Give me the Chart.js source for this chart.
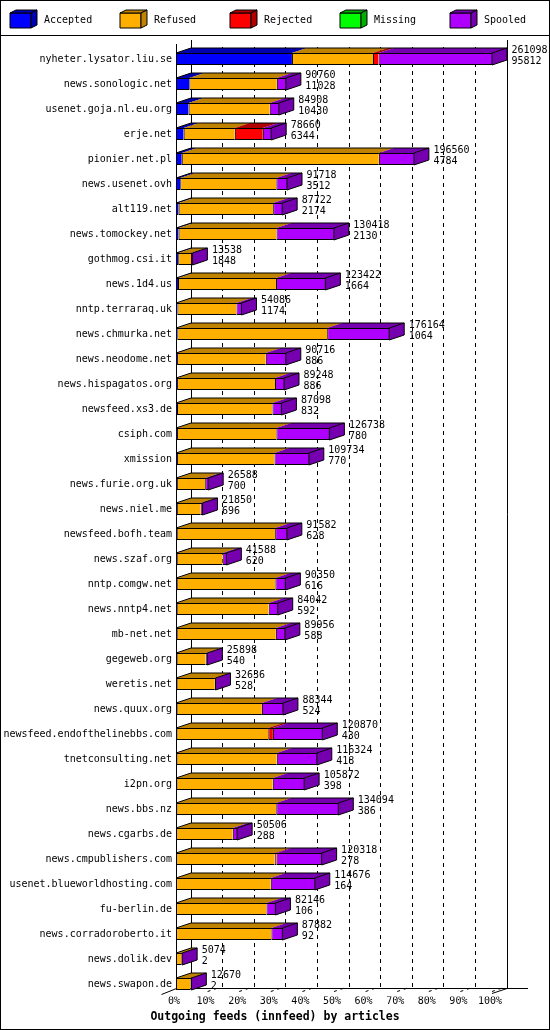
<!DOCTYPE html>
<html>
<head>
<meta charset="utf-8">
<title>Outgoing feeds (innfeed) by articles</title>
<script src="https://cdn.jsdelivr.net/npm/chart.js@4.4.1/dist/chart.umd.min.js"></script>
<style>
  html, body { margin: 0; padding: 0; background: #fff; }
  canvas { display: block; }
</style>
</head>
<body>
<canvas id="feeds" width="550" height="1030"></canvas>
<script>
// innfeed peers, top to bottom
const hosts = [
  "nyheter.lysator.liu.se", "news.sonologic.net", "usenet.goja.nl.eu.org", "erje.net",
  "pionier.net.pl", "news.usenet.ovh", "alt119.net", "news.tomockey.net", "gothmog.csi.it",
  "news.1d4.us", "nntp.terraraq.uk", "news.chmurka.net", "news.neodome.net",
  "news.hispagatos.org", "newsfeed.xs3.de", "csiph.com", "xmission", "news.furie.org.uk",
  "news.niel.me", "newsfeed.bofh.team", "news.szaf.org", "nntp.comgw.net", "news.nntp4.net",
  "mb-net.net", "gegeweb.org", "weretis.net", "news.quux.org", "newsfeed.endofthelinebbs.com",
  "tnetconsulting.net", "i2pn.org", "news.bbs.nz", "news.cgarbs.de", "news.cmpublishers.com",
  "usenet.blueworldhosting.com", "fu-berlin.de", "news.corradoroberto.it", "news.dolik.dev",
  "news.swapon.de"
];

// numbers printed next to each bar
const offered = [261098, 90760, 84908, 78660, 196560, 91718, 87722, 130418, 13538, 123422,
  54086, 176164, 90716, 89248, 87098, 126738, 109734, 26588, 21850, 91582, 41588, 90350,
  84042, 89956, 25898, 32636, 88344, 120870, 116324, 105872, 134094, 50506, 120318, 114676,
  82146, 87882, 5074, 12670];

const accepted = [95812, 11028, 10430, 6344, 4784, 3512, 2174, 2130, 1848, 1664, 1174, 1064,
  886, 886, 832, 780, 770, 700, 696, 628, 620, 616, 592, 588, 540, 528, 524, 430, 418, 398,
  386, 288, 278, 164, 106, 92, 2, 2];

const refused = [66970, 72292, 67038, 42276, 162836, 79386, 78108, 80888, 10590, 80968,
  48782, 123840, 73290, 80922, 78826, 82138, 80574, 23408, 19774, 81304, 37938, 81464,
  76010, 81928, 23978, 31558, 70460, 75790, 82836, 79574, 82448, 46638, 81190, 78132,
  74600, 78700, 4672, 12068];

const rejected = [4630, 0, 0, 23150, 0, 0, 0, 0, 0, 0, 0, 0, 0, 0, 0, 0, 0, 0, 0, 0, 0, 0,
  0, 0, 0, 0, 0, 3860, 0, 0, 0, 0, 1650, 0, 0, 0, 0, 0];

const missing = [0, 0, 0, 0, 0, 0, 0, 0, 0, 0, 0, 0, 0, 0, 0, 0, 0, 0, 0, 0, 0, 0, 0, 0, 0,
  0, 0, 0, 0, 0, 0, 0, 0, 0, 0, 0, 0, 0];

const spooled = [93686, 7440, 7440, 6890, 28940, 8820, 7440, 47400, 1100, 40790, 4130, 51260,
  16540, 7440, 7440, 43820, 28390, 2480, 1380, 9650, 3030, 8270, 7440, 7440, 1380, 550,
  17360, 40790, 33070, 25900, 51260, 3580, 37200, 36380, 7440, 9090, 400, 600];

const seriesNames = ["Accepted", "Refused", "Rejected", "Missing", "Spooled"];
const tickLabels = ["0%", "10%", "20%", "30%", "40%", "50%", "60%", "70%", "80%", "90%", "100%"];
const chartTitle = "Outgoing feeds (innfeed) by articles";

const faceColors  = ["#0000ff", "#ffaf00", "#ff0000", "#00ff00", "#af00ff"];
const shadeColors = ["#0000b0", "#bf8300", "#b00000", "#00b000", "#7600b0"];

const maxOffered = Math.max(...offered);
const DX = 15, DY = 5;   // depth of the 3d extrusion
const MONO = '"DejaVu Sans Mono", monospace';

function line(ctx, x1, y1, x2, y2) {
  ctx.beginPath();
  ctx.moveTo(x1, y1);
  ctx.lineTo(x2, y2);
  ctx.stroke();
}

function poly(ctx, pts, fill) {
  ctx.beginPath();
  ctx.moveTo(pts[0][0], pts[0][1]);
  for (let k = 1; k < pts.length; k++) ctx.lineTo(pts[k][0], pts[k][1]);
  ctx.closePath();
  if (fill) { ctx.fillStyle = fill; ctx.fill(); }
}

function rowSegments(chart, i) {
  const segs = [];
  chart.data.datasets.forEach((ds, d) => {
    const bar = chart.getDatasetMeta(d).data[i];
    if (!bar) return;
    const p = bar.getProps(["x", "y", "base", "height"], true);
    if (Math.abs(p.x - p.base) < 0.01) return;
    segs.push({ x0: Math.min(p.x, p.base), x1: Math.max(p.x, p.base), y: p.y, h: p.height, d });
  });
  return segs;
}

const box3d = {
  id: "box3d",

  // back wall, dashed grid and floor, behind the bars
  beforeDatasetsDraw(chart) {
    const ctx = chart.ctx;
    const xs = chart.scales.x;
    const floorY = 988.5;
    ctx.save();
    ctx.strokeStyle = "#000";
    ctx.lineWidth = 1;

    ctx.setLineDash([4, 4]);
    for (let k = 1; k < 10; k++) {
      const px = Math.floor(xs.getPixelForValue(maxOffered * k / 10) + DX) + 0.5;
      line(ctx, px, 47, px, floorY);
    }
    ctx.setLineDash([]);

    const front0 = Math.floor(xs.left) + 0.5;
    const back0 = Math.floor(xs.left + DX) + 0.5;
    const back100 = Math.floor(xs.right + DX) + 0.5;
    line(ctx, front0, 44, front0, floorY);
    line(ctx, back0, 40, back0, floorY);
    line(ctx, back100, 40, back100, floorY);

    line(ctx, front0, floorY, 528, floorY);
    line(ctx, front0 - DX, floorY + 6, front0, floorY);
    line(ctx, xs.right, floorY + 5, xs.right + DX, floorY);

    ctx.setLineDash([3, 4, 3, 60]);
    for (let k = 1; k <= 10; k++) {
      const px = xs.getPixelForValue(maxOffered * k / 10);
      line(ctx, px, floorY + 3, px + DX, floorY - 2);
    }
    ctx.restore();
  },

  // top and side faces plus the value labels
  afterDatasetsDraw(chart) {
    const ctx = chart.ctx;
    const xs = chart.scales.x;
    ctx.save();
    ctx.lineWidth = 1;
    ctx.strokeStyle = "#000";
    hosts.forEach((h, i) => {
      const segs = rowSegments(chart, i);
      if (!segs.length) return;
      const top = segs[0].y - segs[0].h / 2;
      const bottom = segs[0].y + segs[0].h / 2;
      const first = segs[0], last = segs[segs.length - 1];

      segs.forEach(s => {
        poly(ctx, [[s.x0, top], [s.x0 + DX, top - DY], [s.x1 + DX, top - DY], [s.x1, top]], shadeColors[s.d]);
      });
      poly(ctx, [[last.x1, top], [last.x1 + DX, top - DY], [last.x1 + DX, bottom - DY], [last.x1, bottom]], shadeColors[last.d]);

      ctx.beginPath();
      ctx.moveTo(first.x0, top);
      ctx.lineTo(first.x0 + DX, top - DY);
      ctx.lineTo(last.x1 + DX, top - DY);
      ctx.lineTo(last.x1 + DX, bottom - DY);
      ctx.lineTo(last.x1, bottom);
      ctx.lineTo(last.x1, top);
      ctx.lineTo(last.x1 + DX, top - DY);
      ctx.moveTo(first.x0, top + 0.5);
      ctx.lineTo(last.x1, top + 0.5);
      ctx.stroke();

      const lx = xs.getPixelForValue(offered[i]) + 19.5;
      const cy = segs[0].y;
      ctx.fillStyle = "#000";
      ctx.font = "10px " + MONO;
      ctx.textAlign = "left";
      ctx.textBaseline = "alphabetic";
      ctx.fillText(String(offered[i]), lx, cy - 6);
      ctx.fillText(String(accepted[i]), lx, cy + 5);
    });
    ctx.restore();
  },

  // legend strip, title and frame
  afterDraw(chart) {
    const ctx = chart.ctx;
    ctx.save();
    ctx.lineWidth = 1;
    ctx.strokeStyle = "#000";
    seriesNames.forEach((name, d) => {
      const x = 10 + 110 * d, y = 13, w = 21, hh = 15, dx = 6, dy = 3;
      poly(ctx, [[x, y], [x + w, y], [x + w, y + hh], [x, y + hh]], faceColors[d]);
      ctx.stroke();
      poly(ctx, [[x, y], [x + dx, y - dy], [x + w + dx, y - dy], [x + w, y]], shadeColors[d]);
      ctx.stroke();
      poly(ctx, [[x + w, y], [x + w + dx, y - dy], [x + w + dx, y + hh - dy], [x + w, y + hh]], shadeColors[d]);
      ctx.stroke();
      ctx.fillStyle = "#000";
      ctx.font = "10px " + MONO;
      ctx.textAlign = "left";
      ctx.textBaseline = "middle";
      ctx.fillText(name, 44 + 110 * d, 20);
    });

    ctx.font = "bold 11.5px " + MONO;
    ctx.textAlign = "center";
    ctx.textBaseline = "middle";
    ctx.fillText(chartTitle, 275, 1017);

    line(ctx, 0, 35.5, 550, 35.5);
    ctx.strokeRect(0.5, 0.5, 549, 1029);
    ctx.restore();
  }
};

Chart.defaults.font.family = MONO;
Chart.defaults.font.size = 10;
Chart.defaults.color = "#000";

const series = [accepted, refused, rejected, missing, spooled];

new Chart(document.getElementById("feeds").getContext("2d"), {
  type: "bar",
  data: {
    labels: hosts,
    datasets: series.map((vals, d) => ({
      label: seriesNames[d],
      data: vals,
      backgroundColor: faceColors[d],
      borderColor: "#000",
      borderWidth: { top: 1, bottom: 1, left: 1, right: 0 },
      borderSkipped: false,
      inflateAmount: 0,
      barThickness: 12,
    })),
  },
  options: {
    indexAxis: "y",
    responsive: false,
    devicePixelRatio: 1,
    animation: false,
    layout: { padding: { top: 46.5, right: 58, bottom: 0, left: 0 } },
    plugins: {
      legend: { display: false },
      title: { display: false },
      tooltip: { enabled: false },
    },
    scales: {
      x: {
        stacked: true,
        min: 0,
        max: maxOffered,
        grid: { display: false, drawTicks: false },
        border: { display: false },
        afterBuildTicks: scale => {
          scale.ticks = tickLabels.map((t, k) => ({ value: maxOffered * k / 10 }));
        },
        ticks: {
          autoSkip: false,
          maxRotation: 0,
          padding: -1.5,
          labelOffset: -2,
          callback: (v, k) => tickLabels[k],
        },
        afterFit: scale => { scale.height = 33.5; },
      },
      y: {
        stacked: true,
        grid: { display: false, drawTicks: false },
        border: { display: false },
        ticks: { autoSkip: false, padding: 4 },
        afterFit: scale => { scale.width = 176; },
      },
    },
  },
  plugins: [box3d],
});
</script>
</body>
</html>
